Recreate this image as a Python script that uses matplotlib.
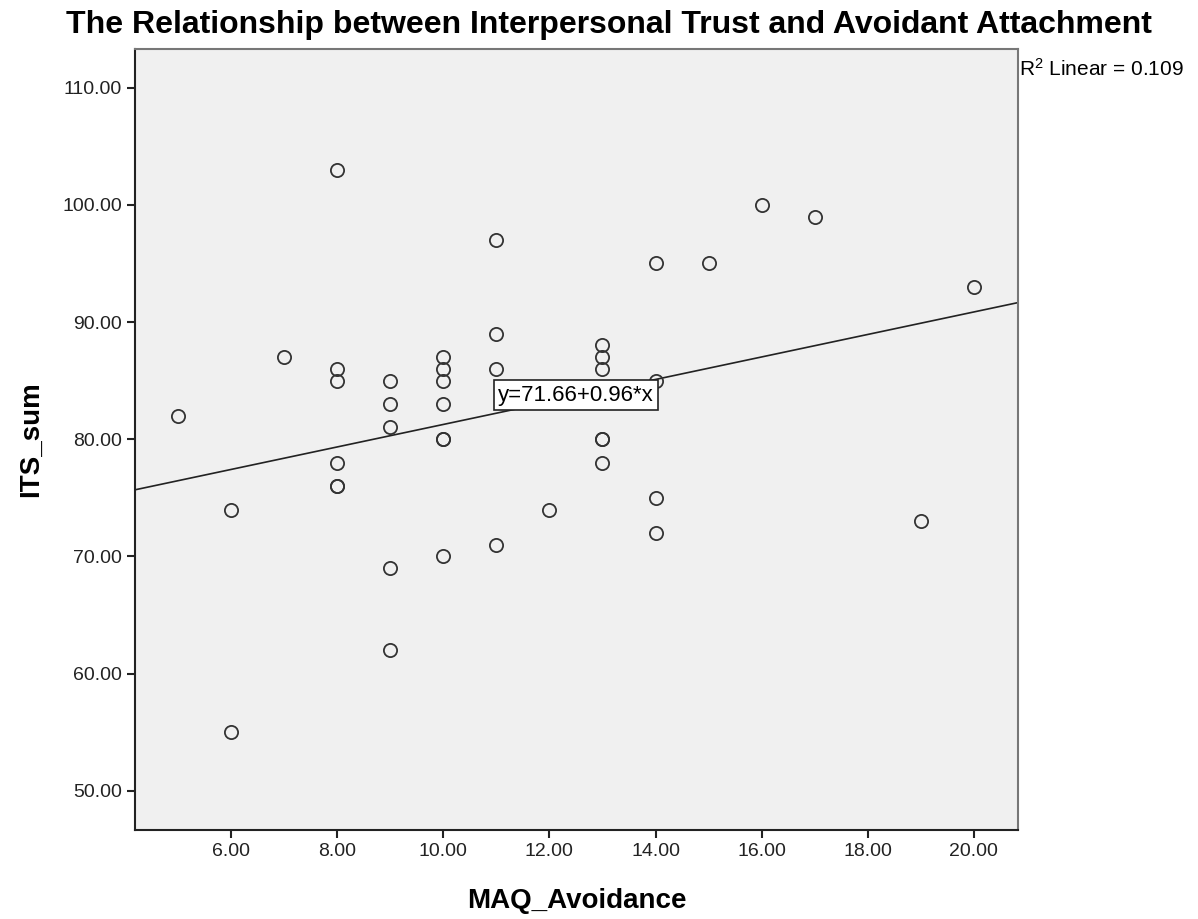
import numpy as np
import matplotlib
matplotlib.use("Agg")
import matplotlib.pyplot as plt

plt.rcParams['font.family'] = ['Liberation Sans', 'DejaVu Sans']

# MAQ_Avoidance vs ITS_sum
avoidance = [5,
             6, 6,
             7,
             8, 8, 8, 8, 8, 8,
             9, 9, 9, 9, 9,
             10, 10, 10, 10, 10, 10, 10,
             11, 11, 11, 11,
             12,
             13, 13, 13, 13, 13, 13,
             14, 14, 14, 14,
             15, 16, 17, 19, 20]
its_sum = [82,
           74, 55,
           87,
           103, 86, 85, 78, 76, 76,
           85, 83, 81, 69, 62,
           87, 86, 85, 83, 80, 80, 70,
           97, 89, 86, 71,
           74,
           88, 87, 86, 80, 80, 78,
           95, 85, 75, 72,
           95, 100, 99, 73, 93]

intercept = 71.66
slope = 0.96
r2 = 0.109

xticks = [6, 8, 10, 12, 14, 16, 18, 20]
yticks = [50, 60, 70, 80, 90, 100, 110]

fig = plt.figure(figsize=(11.98, 9.19), dpi=100)
ax = fig.add_axes([0.1127, 0.0968, 0.7370, 0.8499])
ax.set_facecolor('#f0f0f0')

ax.set_xlim(4.19, 20.83)
ax.set_ylim(46.65, 113.3)

ax.plot(avoidance, its_sum, linestyle='none', marker='o', markersize=9.5,
        markerfacecolor='none', markeredgecolor='#333333', markeredgewidth=1.3,
        zorder=3)

xs = np.array(ax.get_xlim())
ax.plot(xs, intercept + slope * xs, color='#222222', linewidth=1.2, zorder=2)

ax.text(12.5, 83.75, 'y=%.2f+%.2f*x' % (intercept, slope), fontsize=16,
        ha='center', va='center', zorder=4,
        bbox=dict(boxstyle='square,pad=0.2', facecolor='white',
                  edgecolor='#222222', linewidth=1.2))

ax.set_xticks(xticks)
ax.set_yticks(yticks)
ax.set_xticklabels(['%.2f' % v for v in xticks])
ax.set_yticklabels(['%.2f' % v for v in yticks])
ax.tick_params(direction='out', length=6, width=1.5, labelsize=14,
               colors='#222222')

for side in ['left', 'bottom']:
    ax.spines[side].set_color('#222222')
    ax.spines[side].set_linewidth(1.5)
for side in ['top', 'right']:
    ax.spines[side].set_color('#777777')
    ax.spines[side].set_linewidth(1.5)

ax.set_xlabel('MAQ_Avoidance', fontsize=20, fontweight='bold', labelpad=20)
ax.set_ylabel('ITS_sum', fontsize=20, fontweight='bold', labelpad=13)
fig.text(0.508, 0.973,
         'The Relationship between Interpersonal Trust and Avoidant Attachment',
         fontsize=23, fontweight='bold', ha='center', va='center')

fig.text(0.851, 0.913, '$\\mathregular{R^2}$ Linear = %.3f' % r2, fontsize=15,
         ha='left', va='bottom')

fig.savefig('out.png', dpi=100)
